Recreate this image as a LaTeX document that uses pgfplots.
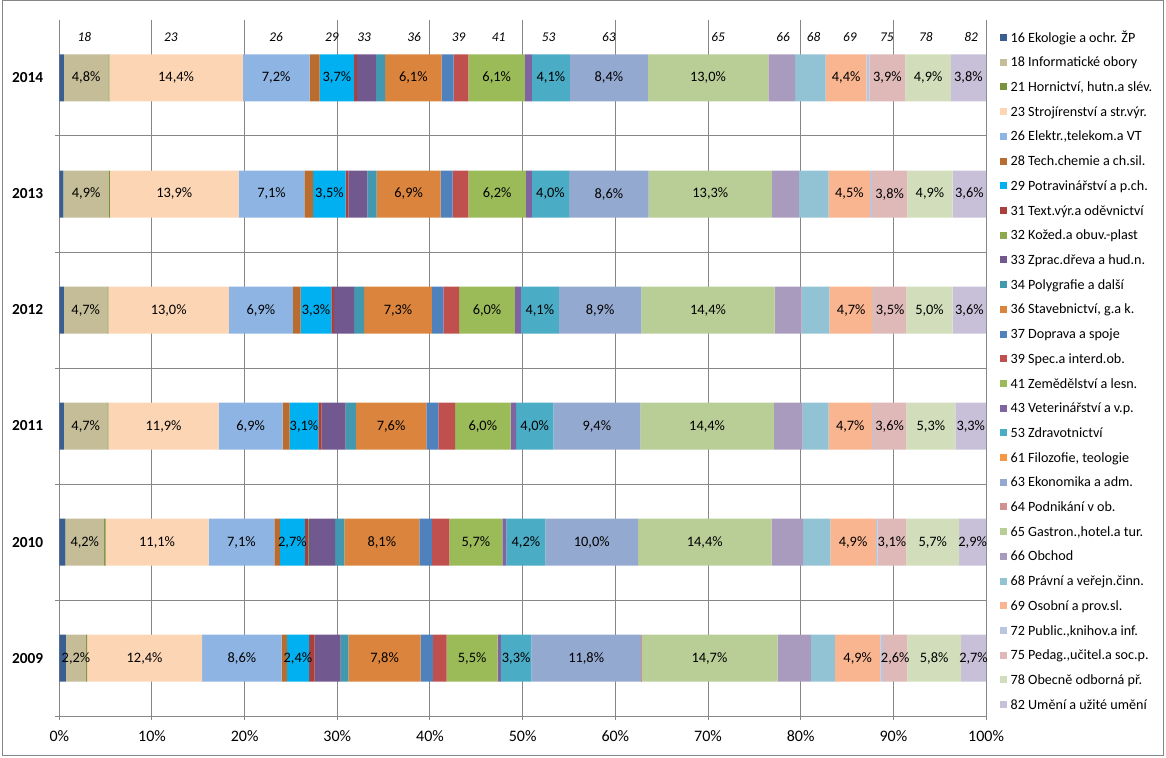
\documentclass[border=0pt]{standalone}
\usepackage{pgfplots}
\pgfplotsset{compat=1.18}
\usepackage{pgfplotstable}
\usepackage{fontspec}
\setmainfont{Carlito}
\definecolor{axgray}{HTML}{868686}
\definecolor{c16}{HTML}{3B5E91}
\definecolor{c18}{HTML}{C4BD97}
\definecolor{c21}{HTML}{77933C}
\definecolor{c23}{HTML}{FCD5B5}
\definecolor{c26}{HTML}{8EB4E3}
\definecolor{c28}{HTML}{B96C30}
\definecolor{c29}{HTML}{00B0F0}
\definecolor{c31}{HTML}{AB3F3C}
\definecolor{c32}{HTML}{8CA94E}
\definecolor{c33}{HTML}{71588F}
\definecolor{c34}{HTML}{4198AF}
\definecolor{c36}{HTML}{DB843D}
\definecolor{c37}{HTML}{4F81BD}
\definecolor{c39}{HTML}{C0504D}
\definecolor{c41}{HTML}{9BBB59}
\definecolor{c43}{HTML}{8064A2}
\definecolor{c53}{HTML}{4BACC6}
\definecolor{c61}{HTML}{F79646}
\definecolor{c63}{HTML}{94A9D0}
\definecolor{c64}{HTML}{D09291}
\definecolor{c65}{HTML}{B9CD96}
\definecolor{c66}{HTML}{A99BBD}
\definecolor{c68}{HTML}{92C3D4}
\definecolor{c69}{HTML}{F9B590}
\definecolor{c72}{HTML}{B9C6DF}
\definecolor{c75}{HTML}{DFB9B8}
\definecolor{c78}{HTML}{D2DEBB}
\definecolor{c82}{HTML}{C8C0D8}

\pgfplotstableread{
y s16 s18 s21 s23 s26 s28 s29 s31 s32 s33 s34 s36 s37 s39 s41 s43 s53 s61 s63 s64 s65 s66 s68 s69 s72 s75 s78 s82
0 0.70 2.2 0.10 12.4 8.6 0.55 2.4 0.60 0.0 2.80 0.85 7.8 1.30 1.5 5.5 0.35 3.3 0 11.8 0.05 14.7 3.6 2.60 4.9 0.3 2.6 5.8 2.7
1 0.65 4.2 0.15 11.1 7.1 0.60 2.7 0.35 0.1 2.80 1.00 8.1 1.35 1.9 5.7 0.45 4.2 0 10.0 0.00 14.4 3.4 2.95 4.9 0.2 3.1 5.7 2.9
2 0.50 4.7 0.10 11.9 6.9 0.75 3.1 0.35 0.0 2.60 1.10 7.6 1.30 1.8 6.0 0.60 4.0 0 9.4 0.00 14.4 3.1 2.80 4.7 0.1 3.6 5.3 3.3
3 0.50 4.7 0.10 13.0 6.9 0.85 3.3 0.30 0.0 2.15 1.10 7.3 1.25 1.7 6.0 0.65 4.1 0 8.9 0.00 14.4 2.9 3.00 4.7 0.1 3.5 5.0 3.6
4 0.45 4.9 0.10 13.9 7.1 0.95 3.5 0.30 0.0 2.05 1.00 6.9 1.30 1.7 6.2 0.65 4.0 0 8.6 0.00 13.3 2.9 3.20 4.5 0.2 3.8 4.9 3.6
5 0.50 4.8 0.10 14.4 7.2 1.10 3.7 0.30 0.0 2.05 1.00 6.1 1.30 1.6 6.1 0.75 4.1 0 8.4 0.00 13.0 2.9 3.30 4.4 0.3 3.9 4.9 3.8
}\data

\pgfplotstablecreatecol[create col/expr={\thisrow{s16}}]{k16}{\data}
\newcommand{\cumcol}[2]{\pgfplotstablecreatecol[create col/expr={\thisrow{k#1}+\thisrow{s#2}}]{k#2}{\data}}
\cumcol{16}{18}\cumcol{18}{21}\cumcol{21}{23}\cumcol{23}{26}\cumcol{26}{28}\cumcol{28}{29}\cumcol{29}{31}
\cumcol{31}{32}\cumcol{32}{33}\cumcol{33}{34}\cumcol{34}{36}\cumcol{36}{37}\cumcol{37}{39}\cumcol{39}{41}
\cumcol{41}{43}\cumcol{43}{53}\cumcol{53}{61}\cumcol{61}{63}\cumcol{63}{64}\cumcol{64}{65}\cumcol{65}{66}
\cumcol{66}{68}\cumcol{68}{69}\cumcol{69}{72}\cumcol{72}{75}\cumcol{75}{78}\cumcol{78}{82}

\newcommand{\barplot}[2]{\addplot[fill=c#1, draw=none] table[x=s#1,y=y]{\data};\addlegendentry{#1 #2}}
\newcommand{\datalab}[1]{\addplot[draw=none, mark=none,
   nodes near coords={\pgfmathprintnumber[fixed,fixed zerofill,precision=1,use comma]{\pgfplotspointmeta}\%},
   point meta=explicit,
   every node near coord/.append style={anchor=center, inner sep=0pt, text=black, font=\fontsize{10.8}{12}\selectfont}]
   table[x expr={\thisrow{k#1}-0.5*\thisrow{s#1}}, y=y, meta=s#1]{\data};}

\tikzset{toplab/.style={font=\itshape\fontsize{10}{12}\selectfont, inner sep=0pt}}

\begin{document}
\begin{tikzpicture}
\begin{axis}[
  x=6.95pt, y=87pt, xmin=0, xmax=100, ymin=-0.5, ymax=5.5, clip=false,
  xbar stacked, bar width=35.25pt,
  axis x line*=bottom, axis y line*=left,
  axis line style={color=axgray, line width=0.75pt},
  xtick={0,10,...,100},
  minor xtick={0,10,...,100},
  xticklabel={\pgfmathprintnumber{\tick}\%},
  xticklabel style={font=\fontsize{12}{14}\selectfont, yshift=-7.5pt},
  ytick={0,...,5}, yticklabels={2009,2010,2011,2012,2013,2014},
  yticklabel style={font=\fontsize{11.5}{13}\selectfont\bfseries, xshift=-8.5pt},
  minor ytick={-0.5,0.5,1.5,2.5,3.5,4.5},
  xmajorgrids, yminorgrids,
  major grid style={color=axgray, line width=0.75pt},
  minor grid style={color=axgray, line width=0.75pt},
  tick align=outside,
  major tick length=0pt, minor tick length=3pt,
  tick style={color=axgray, line width=0.75pt},
  /pgf/number format/assume math mode=true,
  legend cell align=left,
  legend style={at={(1.0151,0.9830)}, anchor=north west, draw=none, fill=none,
    inner sep=0pt, row sep=8.73pt, font=\fontsize{10.6}{12}\selectfont,
    nodes={inner sep=0pt, text height=7.5pt, text depth=2.3pt},
    /tikz/every odd column/.append style={column sep=2.5pt}},
  legend image code/.code={\fill[#1] (0pt,-1.8pt) rectangle (5.25pt,3.45pt);},
]
\barplot{16}{Ekologie a ochr. ŽP}
\barplot{18}{Informatické obory}
\barplot{21}{Hornictví, hutn.a slév.}
\barplot{23}{Strojírenství a str.výr.}
\barplot{26}{Elektr.,telekom.a VT}
\barplot{28}{Tech.chemie a ch.sil.}
\barplot{29}{Potravinářství a p.ch.}
\barplot{31}{Text.výr.a oděvnictví}
\barplot{32}{Kožed.a obuv.-plast}
\barplot{33}{Zprac.dřeva a hud.n.}
\barplot{34}{Polygrafie a další}
\barplot{36}{Stavebnictví, g.a k.}
\barplot{37}{Doprava a spoje}
\barplot{39}{Spec.a interd.ob.}
\barplot{41}{Zemědělství a lesn.}
\barplot{43}{Veterinářství a v.p.}
\barplot{53}{Zdravotnictví}
\barplot{61}{Filozofie, teologie}
\barplot{63}{Ekonomika a adm.}
\barplot{64}{Podnikání v ob.}
\barplot{65}{Gastron.,hotel.a tur.}
\barplot{66}{Obchod}
\barplot{68}{Právní a veřejn.činn.}
\barplot{69}{Osobní a prov.sl.}
\barplot{72}{Public.,knihov.a inf.}
\barplot{75}{Pedag.,učitel.a soc.p.}
\barplot{78}{Obecně odborná př.}
\barplot{82}{Umění a užité umění}
\end{axis}
\begin{axis}[x=6.95pt, y=87pt, xmin=0, xmax=100, ymin=-0.5, ymax=5.5, clip=false,
  hide axis, /pgf/number format/assume math mode=true]
\datalab{18}\datalab{23}\datalab{26}\datalab{29}\datalab{36}\datalab{41}\datalab{53}
\datalab{63}\datalab{65}\datalab{69}\datalab{75}\datalab{78}\datalab{82}
\node[toplab] at (axis cs:2.7,5.353) {18};
\node[toplab] at (axis cs:12.05,5.353) {23};
\node[toplab] at (axis cs:23.4,5.353) {26};
\node[toplab] at (axis cs:29.4,5.353) {29};
\node[toplab] at (axis cs:32.9,5.353) {33};
\node[toplab] at (axis cs:38.3,5.353) {36};
\node[toplab] at (axis cs:43.1,5.353) {39};
\node[toplab] at (axis cs:47.4,5.353) {41};
\node[toplab] at (axis cs:52.8,5.353) {53};
\node[toplab] at (axis cs:59.3,5.353) {63};
\node[toplab] at (axis cs:71.1,5.353) {65};
\node[toplab] at (axis cs:78.1,5.353) {66};
\node[toplab] at (axis cs:81.4,5.353) {68};
\node[toplab] at (axis cs:85.3,5.353) {69};
\node[toplab] at (axis cs:89.3,5.353) {75};
\node[toplab] at (axis cs:93.5,5.353) {78};
\node[toplab] at (axis cs:98.4,5.353) {82};
\draw[axgray, line width=0.75pt] (axis cs:-6.183,-0.8362) rectangle (axis cs:119.10,5.6638);
\path (axis cs:-6.399,-0.8534) rectangle (axis cs:119.42,5.6724);
\end{axis}
\end{tikzpicture}
\end{document}
